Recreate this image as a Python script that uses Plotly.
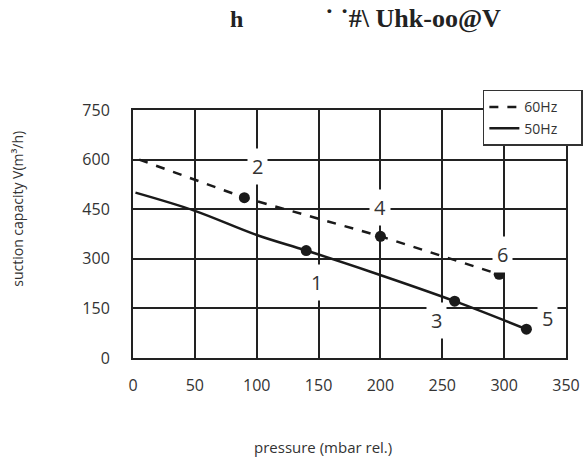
import plotly.graph_objects as go

# 60 Hz curve (dashed)
p60_line_x = [5, 90, 200, 296]
p60_line_y = [600, 485, 368, 253]
# 60 Hz measured points
p60_pts_x = [90, 200, 296]
p60_pts_y = [485, 368, 253]

# 50 Hz curve (solid)
p50_line_x = [2, 50, 100, 140, 192, 260, 318]
p50_line_y = [500, 445, 372, 325, 261, 172, 87]
# 50 Hz measured points
p50_pts_x = [140, 260, 318]
p50_pts_y = [325, 172, 87]

# numbered point labels
lbl_text = ["2", "4", "6", "1", "3", "5"]
lbl_x = [101, 200, 298.5, 148, 245.5, 335]
lbl_y = [578, 455, 314, 227, 113, 120]

x_ticks = [0, 50, 100, 150, 200, 250, 300, 350]
y_ticks = [0, 150, 300, 450, 600, 750]

series_names = ["60Hz", "50Hz"]
title_left = "h"
title_right = "˙ ˙#\\ Uhk-oo@V"
x_title = "pressure (mbar rel.)"
y_title = "suction capacity V(m³/h)"

ink = "#1a1a1a"
pad = "\u00a0" * 5

fig = go.Figure()
fig.add_trace(go.Scatter(x=p60_line_x, y=p60_line_y, mode="lines", name=series_names[0] + pad,
                         line=dict(color=ink, width=2.5, dash="dash")))
fig.add_trace(go.Scatter(x=p50_line_x, y=p50_line_y, mode="lines", name=series_names[1] + pad,
                         line=dict(color=ink, width=2.5), line_shape="spline"))
fig.add_trace(go.Scatter(x=p60_pts_x, y=p60_pts_y, mode="markers", showlegend=False,
                         marker=dict(color=ink, size=11)))
fig.add_trace(go.Scatter(x=p50_pts_x, y=p50_pts_y, mode="markers", showlegend=False,
                         marker=dict(color=ink, size=11)))

for t, x, y in zip(lbl_text, lbl_x, lbl_y):
    fig.add_annotation(x=x, y=y, text=t, showarrow=False, bgcolor="white",
                       borderpad=4, font=dict(family="Open Sans", size=20, color="#333"))

fig.add_annotation(xref="paper", yref="paper", x=0.240, y=1.367, text="<b>" + title_left + "</b>",
                   showarrow=False, font=dict(family="Liberation Serif", size=24, color="#222"),
                   xanchor="center", yanchor="middle")
fig.add_annotation(xref="paper", yref="paper", x=0.647, y=1.367, text="<b>" + title_right + "</b>",
                   showarrow=False, font=dict(family="Liberation Serif", size=26, color="#222"),
                   xanchor="center", yanchor="middle")
# axis titles
fig.add_annotation(xref="paper", yref="paper", x=0.439, y=-0.359, text=x_title,
                   showarrow=False, font=dict(family="Open Sans", size=15, color="#333"),
                   xanchor="center", yanchor="middle")
fig.add_annotation(xref="paper", yref="paper", x=-0.266, y=0.601, text=y_title,
                   showarrow=False, textangle=-90,
                   font=dict(family="Open Sans", size=14, color="#333"),
                   xanchor="center", yanchor="middle")

fig.update_layout(
    width=586, height=457,
    margin=dict(l=133, r=20, t=110, b=99, autoexpand=False),
    plot_bgcolor="white", paper_bgcolor="white",
    font=dict(family="Open Sans", color="#333"),
    legend=dict(x=0.808, y=1.081, xanchor="left", yanchor="top",
                bgcolor="white", bordercolor="#333", borderwidth=1.5,
                font=dict(size=14, color="#333"), itemwidth=30,
                tracegroupgap=0),
    xaxis=dict(range=[0, 350], tickvals=x_ticks, showgrid=True, gridcolor="#222",
               gridwidth=2, zeroline=False, showline=True, mirror=True,
               linecolor="#222", linewidth=2, ticks="", ticklabelstandoff=12,
               automargin=False, tickfont=dict(size=16, color="#333")),
    yaxis=dict(range=[0, 750], tickvals=y_ticks, showgrid=True, gridcolor="#222",
               gridwidth=2, zeroline=False, showline=True, mirror=True,
               linecolor="#222", linewidth=2, ticks="", ticklabelstandoff=18,
               automargin=False, tickfont=dict(size=16, color="#333")),
)

fig.write_html("out.html", config={"displayModeBar": False},
               post_script="document.body.style.margin='0px';")
